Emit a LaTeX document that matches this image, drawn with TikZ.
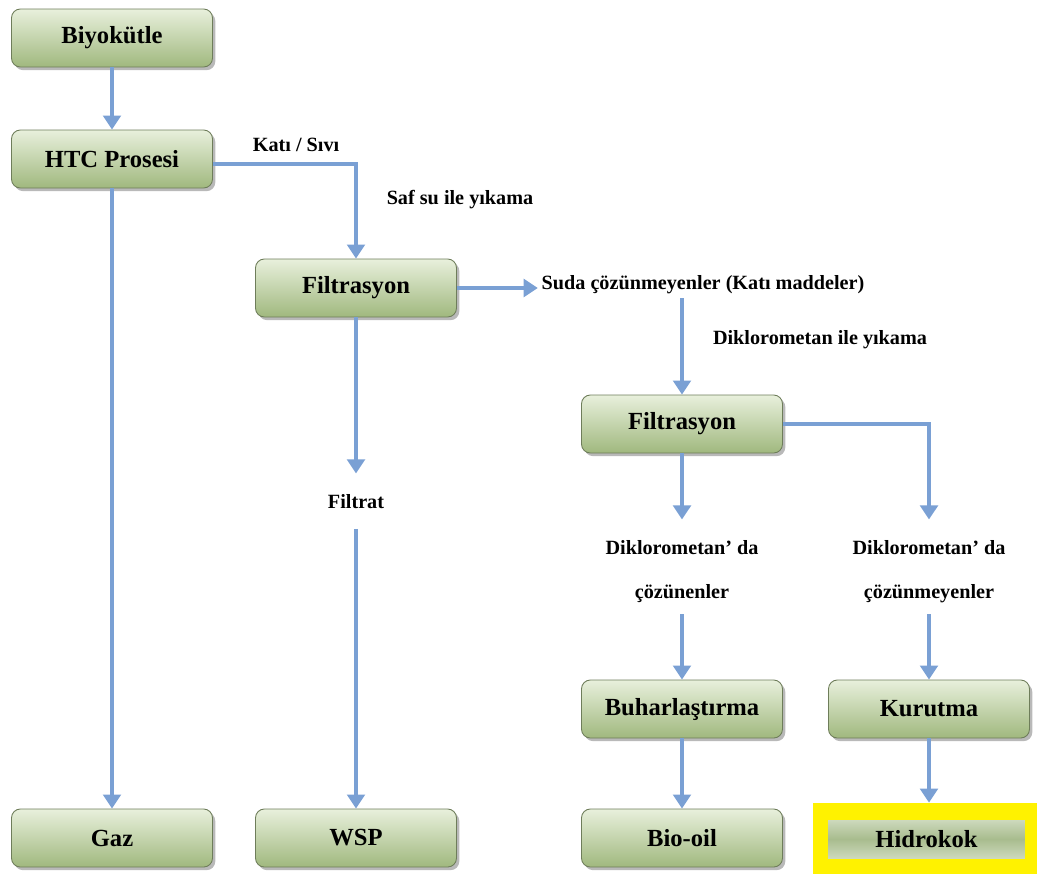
\documentclass[tikz,border=0pt]{standalone}
\usepackage{fontspec}
\setmainfont{Liberation Serif}
\usetikzlibrary{positioning, shapes.geometric, arrows.meta, shadows}

\definecolor{arrowblue}{RGB}{122,160,212}
\definecolor{boxtop}{RGB}{232,240,220}
\definecolor{boxbot}{RGB}{160,184,126}
\definecolor{boxline}{RGB}{110,125,90}
\definecolor{hidrotop}{RGB}{205,217,188}
\definecolor{hidromid}{RGB}{168,188,142}

\tikzset{
  box/.style={rectangle, rounded corners=5pt, draw=boxline, line width=0.5pt,
    top color=boxtop, bottom color=boxbot, minimum width=4.02cm, minimum height=1.16cm,
    drop shadow={shadow xshift=1.6pt, shadow yshift=-1.8pt, opacity=0.55},
    font=\fontsize{14}{16}\selectfont\bfseries},
  lbl/.style={inner sep=2pt, font=\fontsize{11.5}{13}\selectfont\bfseries},
  flow/.style={draw=arrowblue, line width=2.3pt, -{Triangle[width=10pt,length=8pt]}}
}

\begin{document}
\begin{tikzpicture}[x=0.02cm, y=-0.02cm]
\useasboundingbox (0,0) rectangle (1037,877);

% boxes
\node[box] (bio) at (112,38) {Biyokütle};
\node[box] (htc) at (112,159) {HTC Prosesi};
\node[box] (filt1) at (356,288) {Filtrasyon};
\node[box] (filt2) at (682,424) {Filtrasyon};
\node[box] (buhar) at (682,709) {Buharlaştırma};
\node[box] (kurut) at (929,709) {Kurutma};
\node[box] (gaz) at (112,838) {Gaz};
\node[box] (wsp) at (356,838) {WSP};
\node[box] (biooil) at (682,838) {Bio-oil};

% Hidrokok, highlighted
\node[fill=yellow, minimum width=4.48cm, minimum height=1.42cm] (hidrobg) at (925,838.5) {};
\node[rectangle, top color=hidrotop, bottom color=hidrotop, middle color=hidromid,
  minimum width=3.94cm, minimum height=0.76cm, font=\fontsize{14}{16}\selectfont\bfseries]
  (hidro) at (926.5,839) {Hidrokok};

% texts
\node[lbl] (katisivi) at (296,145) {Katı / Sıvı};
\node[lbl] (safsu) at (460,200) {Saf su ile yıkama};
\node[lbl] (suda) at (703,285) {Suda çözünmeyenler (Katı maddeler)};
\node[lbl] (dikyik) at (820,340) {Diklorometan ile yıkama};
\node[lbl] (filtrat) at (356,502) {Filtrat};
\node[lbl] (coz1a) at (682,548) {Diklorometan' da};
\node[lbl] (coz1b) at (682,594) {çözünenler};
\node[lbl] (coz2a) at (929,548) {Diklorometan' da};
\node[lbl] (coz2b) at (929,594) {çözünmeyenler};

% connectors
\draw[flow] (bio) -- (htc);
\draw[flow] (htc) -- (gaz);
\draw[flow] ([yshift=-3pt]htc.east) -| (filt1);
\draw[flow] (filt1.east) -- (filt1.east -| suda.west);
\draw[flow, shorten >=10pt] (filt1) -- (filtrat);
\draw[flow, shorten <=9pt] (filtrat) -- (wsp);
\draw[flow] (suda.south -| filt2.north) -- (filt2.north);
\draw[flow, shorten >=10pt] (filt2) -- (coz1a);
\draw[flow, shorten >=10pt] (filt2.east) -| (coz2a);
\draw[flow, shorten <=4pt] (coz1b) -- (buhar);
\draw[flow, shorten <=4pt] (coz2b) -- (kurut);
\draw[flow] (buhar) -- (biooil);
\draw[flow] (kurut) -- (kurut |- hidrobg.north);
\end{tikzpicture}
\end{document}
